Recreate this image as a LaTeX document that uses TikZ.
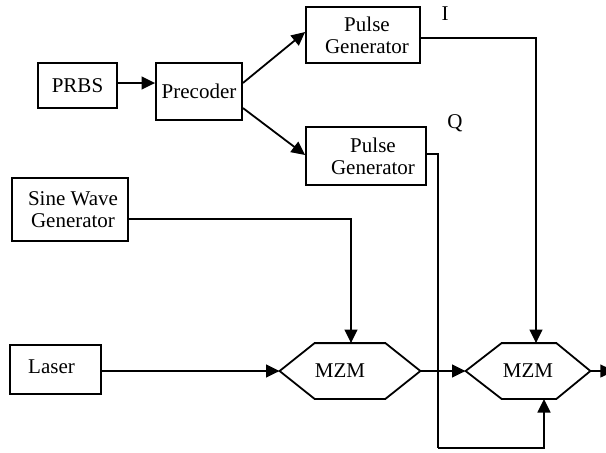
\documentclass[tikz,border=0pt]{standalone}
\usepackage{fontspec}
\setmainfont{Liberation Serif}
\usetikzlibrary{arrows.meta}
\begin{document}
\begin{tikzpicture}[x=0.5pt,y=-0.5pt,
  box/.style={draw,line width=0.9pt,inner sep=0pt,align=center,font=\fontsize{10.5}{11}\selectfont},
  hexnode/.style={inner sep=0pt,minimum height=27.5pt,font=\fontsize{10.5}{11}\selectfont},
  lbl/.style={inner sep=0pt,font=\fontsize{10.5}{11}\selectfont},
  conn/.style={line width=0.9pt},
  arr/.style={conn,-{Triangle[length=6.8pt,width=6.4pt]}}]
\useasboundingbox (0,0) rectangle (606,452);
\node[box,minimum width=39.5pt,minimum height=22.5pt] (prbs) at (77.5,85.5) {PRBS};
\node[box,minimum width=43pt,minimum height=28.5pt] (prec) at (199,91.5) {Precoder};
\node[box,minimum width=57pt,minimum height=28pt] (pg1) at (363,35) {\hspace*{4pt}Pulse\\\hspace*{4pt}Generator};
\node[box,minimum width=60pt,minimum height=29pt] (pg2) at (366,156) {\hspace*{7pt}Pulse\\\hspace*{7pt}Generator};
\node[box,minimum width=58pt,minimum height=31.5pt] (sine) at (70,209.5) {\hspace*{3pt}Sine Wave\\\hspace*{3pt}Generator};
\node[box,minimum width=45.5pt,minimum height=24.5pt] (laser) at (55.5,369.5) {\raisebox{3pt}{Laser}\hspace*{4pt}};
\node[hexnode,minimum width=70pt] (mzm1) at (350,371) {\hspace*{-10pt}MZM};
\node[hexnode,minimum width=62pt] (mzm2) at (528,371) {MZM};
\node[lbl] (ilbl) at (445,14) {I};
\node[lbl] (qlbl) at (455,123) {Q};
\coordinate (qturn) at (438,448);
\coordinate (out) at (614,371);
% hexagons
\draw[conn] (mzm1.west) -- ([xshift=17.5pt]mzm1.north west) -- ([xshift=-17.5pt]mzm1.north east) -- (mzm1.east) -- ([xshift=-17.5pt]mzm1.south east) -- ([xshift=17.5pt]mzm1.south west) -- cycle;
\draw[conn] (mzm2.west) -- ([xshift=18pt]mzm2.north west) -- ([xshift=-17pt]mzm2.north east) -- (mzm2.east) -- ([xshift=-17pt]mzm2.south east) -- ([xshift=18pt]mzm2.south west) -- cycle;
% connectors
\draw[arr] ([yshift=1.25pt]prbs.east) -- ([yshift=1.25pt]prbs.east -| prec.west);
\draw[arr] ([yshift=4.25pt]prec.east) -- ([yshift=1.5pt]pg1.west);
\draw[arr] ([yshift=-8.25pt]prec.east) -- ([yshift=0.5pt]pg2.west);
\draw[arr] ([yshift=-1.5pt]pg1.east) -| ([xshift=4pt]mzm2.north);
\draw[conn] ([yshift=1pt]pg2.east) -| (qturn);
\draw[arr] (qturn) -| ([xshift=8pt]mzm2.south);
\draw[arr] ([yshift=-4.75pt]sine.east) -| ([xshift=0.5pt]mzm1.north);
\draw[arr] (laser.east |- mzm1.west) -- (mzm1.west);
\draw[arr] (mzm1.east) -- (mzm2.west);
\draw[arr] (mzm2.east) -- (out);
\end{tikzpicture}
\end{document}
